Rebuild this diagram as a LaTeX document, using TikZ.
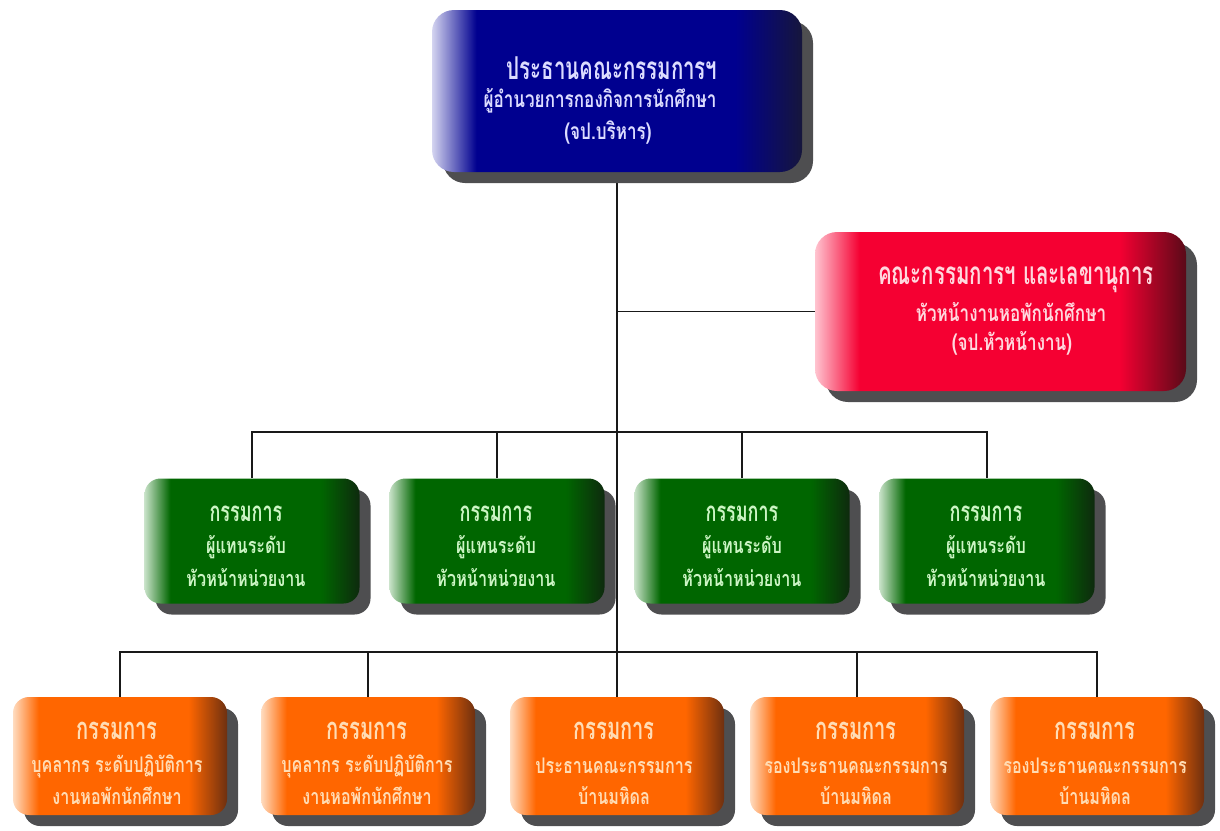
\documentclass[tikz,border=0pt]{standalone}
\usepackage{fontspec}
\newfontfamily\thaiB[Script=Thai,FakeStretch=0.65]{Loma}
\newfontfamily\thaiS[Script=Thai,FakeStretch=0.75]{Loma}
\usetikzlibrary{shadows,backgrounds}
\definecolor{bL}{HTML}{D4D4F0}\definecolor{bM}{HTML}{00008F}\definecolor{bR}{HTML}{16163C}
\definecolor{rL}{HTML}{FFC4D0}\definecolor{rM}{HTML}{F50032}\definecolor{rR}{HTML}{5A0A18}
\definecolor{gL}{HTML}{C8E2C8}\definecolor{gM}{HTML}{006600}\definecolor{gR}{HTML}{0E2A0E}
\definecolor{oL}{HTML}{FFDCC0}\definecolor{oM}{HTML}{FF6600}\definecolor{oR}{HTML}{6E3010}
\definecolor{bT}{HTML}{DCDCFF}\definecolor{rT}{HTML}{FFD8DE}
\definecolor{gT}{HTML}{CCF5C4}\definecolor{oT}{HTML}{FFDCB4}
\definecolor{shd}{HTML}{4E4E50}
\pgfdeclarehorizontalshading{blueshade}{100bp}{color(0bp)=(bL); color(25bp)=(bL); color(31bp)=(bM); color(66bp)=(bM); color(75bp)=(bR); color(100bp)=(bR)}
\pgfdeclarehorizontalshading{redshade}{100bp}{color(0bp)=(rL); color(25bp)=(rL); color(31bp)=(rM); color(66bp)=(rM); color(75bp)=(rR); color(100bp)=(rR)}
\pgfdeclarehorizontalshading{greenshade}{100bp}{color(0bp)=(gL); color(25bp)=(gL); color(31bp)=(gM); color(66bp)=(gM); color(75bp)=(gR); color(100bp)=(gR)}
\pgfdeclarehorizontalshading{orangeshade}{100bp}{color(0bp)=(oL); color(25bp)=(oL); color(31bp)=(oM); color(66bp)=(oM); color(75bp)=(oR); color(100bp)=(oR)}
\tikzset{
  boxbase/.style={shade, inner sep=0pt, draw=none,
    drop shadow={shadow xshift=11pt, shadow yshift=-11pt, fill=shd, opacity=1}},
  chairbox/.style={boxbase, shading=blueshade, rounded corners=22pt, minimum width=370pt, minimum height=162pt},
  secrbox/.style={boxbase, shading=redshade, rounded corners=22pt, minimum width=371pt, minimum height=159pt},
  greenbox/.style={boxbase, shading=greenshade, rounded corners=16pt, minimum width=215pt, minimum height=125pt},
  orangebox/.style={boxbase, shading=orangeshade, rounded corners=16pt, minimum width=214pt, minimum height=118pt},
  ttop/.style={inner sep=0pt, font=\thaiB\bfseries\fontsize{31.5}{33}\selectfont},
  ttopsub/.style={inner sep=0pt, font=\thaiS\bfseries\fontsize{22.8}{24}\selectfont},
  tgreen/.style={inner sep=0pt, text=gT, font=\thaiB\bfseries\fontsize{27.7}{29}\selectfont},
  tgreensub/.style={inner sep=0pt, text=gT, font=\thaiS\bfseries\fontsize{21.6}{23}\selectfont},
  torange/.style={inner sep=0pt, text=oT, font=\thaiB\bfseries\fontsize{31}{33}\selectfont},
  torangesub/.style={inner sep=0pt, text=oT, font=\thaiS\bfseries\fontsize{21.5}{23}\selectfont},
  conn/.style={line width=1.4pt, draw=black!90}
}
\begin{document}
\begin{tikzpicture}[x=1pt,y=-1pt]
\useasboundingbox (0,0) rectangle (1220,830);
% boxes
\node[chairbox] (chair) at (617,91) {};
\node[secrbox] (secr) at (1000.5,311.5) {};
\node[greenbox] (g1) at (252,541) {};
\node[greenbox] (g2) at (497,541) {};
\node[greenbox] (g3) at (742,541) {};
\node[greenbox] (g4) at (987,541) {};
\node[orangebox] (o1) at (120,756) {};
\node[orangebox] (o2) at (368,756) {};
\node[orangebox] (o3) at (617,756) {};
\node[orangebox] (o4) at (857,756) {};
\node[orangebox] (o5) at (1097,756) {};
\coordinate (gbus) at (617,432);
\coordinate (obus) at (617,652);
% connectors behind the boxes
\begin{scope}[on background layer]
\draw[conn] (chair.south) -- (o3.north);
\draw[conn] (secr.west) -- (secr.west -| chair.south);
\draw[conn] (g1.north) |- (gbus) -| (g4.north);
\draw[conn] (g2.north) |- (gbus);
\draw[conn] (g3.north) |- (gbus);
\draw[conn] (o1.north) |- (obus) -| (o5.north);
\draw[conn] (o2.north) |- (obus);
\draw[conn] (o4.north) |- (obus);
\end{scope}
% texts
\node[ttop, text=bT] (chair-1) at (612,68) {ประธานคณะกรรมการฯ};
\node[ttopsub, text=bT] (chair-2) at (600,101) {ผู้อำนวยการกองกิจการนักศึกษา};
\node[ttopsub, text=bT] (chair-3) at (608,133) {(จป.บริหาร)};
\node[ttop, text=rT] (secr-1) at (1016,280) {คณะกรรมการฯ และเลขานุการ};
\node[ttopsub, text=rT] (secr-2) at (1011,312) {หัวหน้างานหอพักนักศึกษา};
\node[ttopsub, text=rT] (secr-3) at (1012,343) {(จป.หัวหน้างาน)};
\foreach \g/\x in {g1/246,g2/496,g3/742,g4/986}{
  \node[tgreen] (\g-1) at (\x,514) {กรรมการ};
  \node[tgreensub] (\g-2) at (\x,547) {ผู้แทนระดับ};
  \node[tgreensub] (\g-3) at (\x,578) {หัวหน้าหน่วยงาน};
}
\foreach \o/\x in {o1/117,o2/367}{
  \node[torange] (\o-1) at (\x,731) {กรรมการ};
  \node[torangesub] (\o-2) at (\x,766) {บุคลากร ระดับปฏิบัติการ};
  \node[torangesub] (\o-3) at (\x,796) {งานหอพักนักศึกษา};
}
\node[torange] (o3-1) at (614,731) {กรรมการ};
\node[torangesub] (o3-2) at (614,766) {ประธานคณะกรรมการ};
\node[torangesub] (o3-3) at (614,796) {บ้านมหิดล};
\foreach \o/\x in {o4/856,o5/1095}{
  \node[torange] (\o-1) at (\x,731) {กรรมการ};
  \node[torangesub] (\o-2) at (\x,766) {รองประธานคณะกรรมการ};
  \node[torangesub] (\o-3) at (\x,796) {บ้านมหิดล};
}
\end{tikzpicture}
\end{document}
